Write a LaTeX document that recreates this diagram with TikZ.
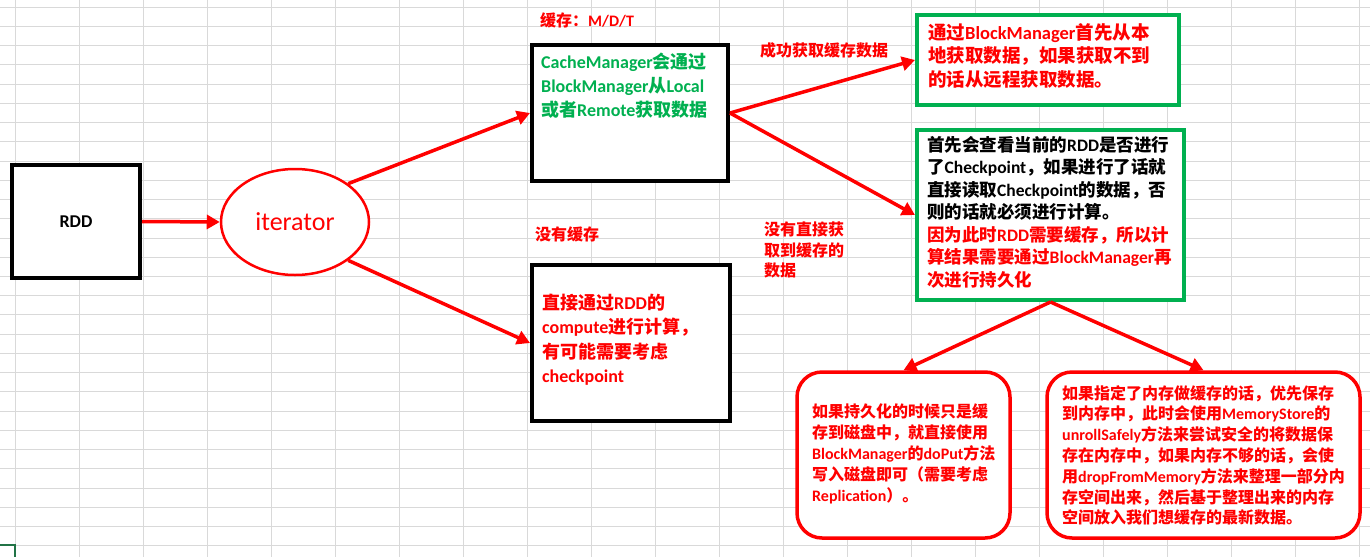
\documentclass[tikz,border=0pt]{standalone}
\usepackage{fontspec}
\setmainfont{Carlito}
\newfontfamily\latinf{Carlito}
\newfontfamily\cjk{Noto Sans CJK SC}
\usepackage{tikz}
\usetikzlibrary{shapes.geometric,arrows.meta,positioning}

% Chinese characters switch to the CJK font
\newXeTeXintercharclass\cjkcls
\newcount\cjkcode
\def\setcjkrange#1#2{\cjkcode=#1 \loop\XeTeXcharclass\cjkcode=\cjkcls \ifnum\cjkcode<#2 \advance\cjkcode by 1 \repeat}
\setcjkrange{"3000}{"303F}
\setcjkrange{"4E00}{"9FFF}
\setcjkrange{"FF00}{"FFEF}
\XeTeXinterchartokenstate=1
\XeTeXinterchartoks 0 \cjkcls = {\cjk}
\XeTeXinterchartoks 4095 \cjkcls = {\cjk}
\XeTeXinterchartoks \cjkcls 0 = {\latinf}
\XeTeXinterchartoks 4095 0 = {\latinf}

\definecolor{xlgreen}{RGB}{0,176,80}
\definecolor{gridgray}{RGB}{217,217,217}
\definecolor{xlmark}{RGB}{33,115,70}

\tikzset{
    gridline/.style={gridgray, line width=1pt},
    blackbox/.style={draw=black, line width=4pt, fill=white, inner sep=0pt},
    greenbox/.style={draw=xlgreen, line width=4pt, fill=white, inner sep=0pt},
    redbox/.style={draw=red, line width=3.5pt, fill=white, rounded corners=25pt, inner sep=0pt},
    flow/.style={red, line width=3.5pt, -{Triangle[length=13pt,width=14pt]}},
    txt/.style 2 args={inner sep=0pt, anchor=north west, align=left, font=\bfseries\fontsize{#1}{#2}\selectfont}
}

\begin{document}
\begin{tikzpicture}[x=1pt, y=-1pt]
    \useasboundingbox (0,0) rectangle (1370,557);

    % Sheet grid
    \foreach \gx in {0,...,21}
        \draw[gridline] ({15+64*\gx},0) -- ({15+64*\gx},557);
    \foreach \gy in {0,...,28}
        \draw[gridline] (0,{7.3+19.23*\gy}) -- (1370,{7.3+19.23*\gy});
    \draw[xlmark, line width=1.5pt] (0,545) -- (15,545) -- (15,557);

    % RDD and iterator
    \node[blackbox, minimum width=128pt, minimum height=113pt, font=\bfseries\fontsize{18}{22}\selectfont] (rdd) at (76,221.5) {RDD};
    \node[ellipse, draw=red, line width=2.5pt, fill=white, minimum width=148pt, minimum height=106pt, inner sep=0pt, text=red, font=\fontsize{26}{30}\selectfont] (iter) at (295,222) {iterator};

    % Cached / not cached
    \node[blackbox, minimum width=196pt, minimum height=136pt] (cache) at (630,113) {};
    \node[blackbox, minimum width=198pt, minimum height=156pt] (compute) at (631,343) {};
    \node[txt={16}{20}, anchor=west, text=red] (cacheKind) at (540,20) {缓存：M/D/T};
    \node[txt={18}{24}, text=xlgreen] (cacheTxt) at (541,53) {CacheManager会通过\\BlockManager从Local\\或者Remote获取数据};
    \node[txt={16}{20}, anchor=west, text=red] (noCacheLbl) at (535,234) {没有缓存};
    \node[txt={18}{24.3}, text=red] (computeTxt) at (542,294) {直接通过RDD的\\compute进行计算，\\有可能需要考虑\\checkpoint};

    % Block manager results
    \node[greenbox, minimum width=262pt, minimum height=90pt] (hit) at (1048,60) {};
    \node[greenbox, minimum width=267pt, minimum height=170pt] (check) at (1050.5,215) {};
    \node[txt={16}{20}, anchor=west, text=red] (hitLbl) at (760,50) {成功获取缓存数据};
    \node[txt={16}{20.5}, text=red] (missLbl) at (764,222) {没有直接获\\取到缓存的\\数据};
    \node[txt={18.5}{23.5}, text=red] (hitTxt) at (928,23) {通过BlockManager首先从本\\地获取数据，如果获取不到\\的话从远程获取数据。};
    \node[txt={17.5}{22.5}] (checkTxt) at (927,136) {首先会查看当前的RDD是否进行\\了Checkpoint，如果进行了话就\\直接读取Checkpoint的数据，否\\则的话就必须进行计算。\\\textcolor{red}{因为此时RDD需要缓存，所以计}\\\textcolor{red}{算结果需要通过BlockManager再}\\\textcolor{red}{次进行持久化}};

    % Persisting
    \node[redbox, minimum width=213pt, minimum height=166pt] (disk) at (903.5,455) {};
    \node[redbox, minimum width=313pt, minimum height=166pt] (mem) at (1203.5,455) {};
    \node[txt={16}{21}, text=red] (diskTxt) at (812,404) {如果持久化的时候只是缓\\存到磁盘中，就直接使用\\BlockManager的doPut方法\\写入磁盘即可（需要考虑\\Replication）。};
    \node[txt={16}{20.8}, text=red] (memTxt) at (1062,385) {如果指定了内存做缓存的话，优先保存\\到内存中，此时会使用MemoryStore的\\unrollSafely方法来尝试安全的将数据保\\存在内存中，如果内存不够的话，会使\\用dropFromMemory方法来整理一部分内\\存空间出来，然后基于整理出来的内存\\空间放入我们想缓存的最新数据。};

    % Arrows
    \draw[flow] (rdd.east) -- (iter.west);
    \draw[flow] (iter.north east) -- (cache.west);
    \draw[flow] (iter.south east) -- (compute.west);
    \draw[flow] (cache.east) -- (hit.west);
    \draw[flow] (cache.east) -- (check.west);
    \draw[flow] (check.south) -- (disk.north);
    \draw[flow] (check.south) -- (mem.north);
\end{tikzpicture}
\end{document}
